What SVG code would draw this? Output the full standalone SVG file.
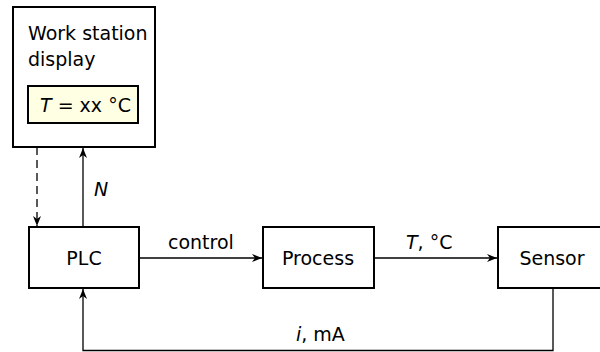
<svg xmlns="http://www.w3.org/2000/svg" width="600" height="352" viewBox="0 0 600 352">
  <defs>
    <marker id="arrow" markerUnits="userSpaceOnUse" markerWidth="10" markerHeight="8" refX="10" refY="4" orient="auto">
      <path d="M0,0 L10,4 L0,8 L3,4 Z" fill="#000"/>
    </marker>
    <style>
      .box { fill: #fff; stroke: #000; stroke-width: 2; }
      .screen { fill: #ffffe4; stroke: #000; stroke-width: 2; }
      .wire { fill: none; stroke: #000; stroke-width: 1.3; }
      .dash { stroke-dasharray: 8 5; }
      text { font-family: "DejaVu Sans", "Liberation Sans", sans-serif; font-size: 19px; fill: #000; }
      .mid { text-anchor: middle; }
    </style>
  </defs>
  <rect width="600" height="352" fill="#fff"/>

  <!-- Work station with its display panel -->
  <g id="workstation">
    <rect class="box" x="13" y="7" width="142" height="140"/>
    <text x="28" y="40">Work station</text>
    <text x="28" y="66">display</text>
    <rect class="screen" x="28" y="86" width="110" height="37"/>
    <text x="40" y="112"><tspan font-style="italic">T</tspan> = xx °C</text>
  </g>

  <g id="plc">
    <rect class="box" x="29" y="227" width="110" height="61"/>
    <text class="mid" x="84" y="265">PLC</text>
  </g>

  <g id="process">
    <rect class="box" x="263" y="227" width="111" height="61"/>
    <text class="mid" x="318" y="265">Process</text>
  </g>

  <g id="sensor">
    <rect class="box" x="498" y="227" width="110" height="61"/>
    <text class="mid" x="552" y="265">Sensor</text>
  </g>

  <!-- Signal lines -->
  <g id="connectors">
    <line class="wire dash" x1="37" y1="147" x2="37" y2="226" marker-end="url(#arrow)"/>
    <line class="wire" x1="83" y1="227" x2="83" y2="148" marker-end="url(#arrow)"/>
    <line class="wire" x1="139" y1="258" x2="262" y2="258" marker-end="url(#arrow)"/>
    <line class="wire" x1="374" y1="258" x2="497" y2="258" marker-end="url(#arrow)"/>
    <polyline class="wire" points="553,288 553,350.5 83,350.5 83,289" marker-end="url(#arrow)"/>
  </g>

  <g id="labels">
    <text x="94" y="196" font-style="italic">N</text>
    <text x="168" y="249">control</text>
    <text x="406" y="249"><tspan font-style="italic">T</tspan>, °C</text>
    <text x="296" y="341"><tspan font-style="italic">i</tspan>, mA</text>
  </g>
</svg>
